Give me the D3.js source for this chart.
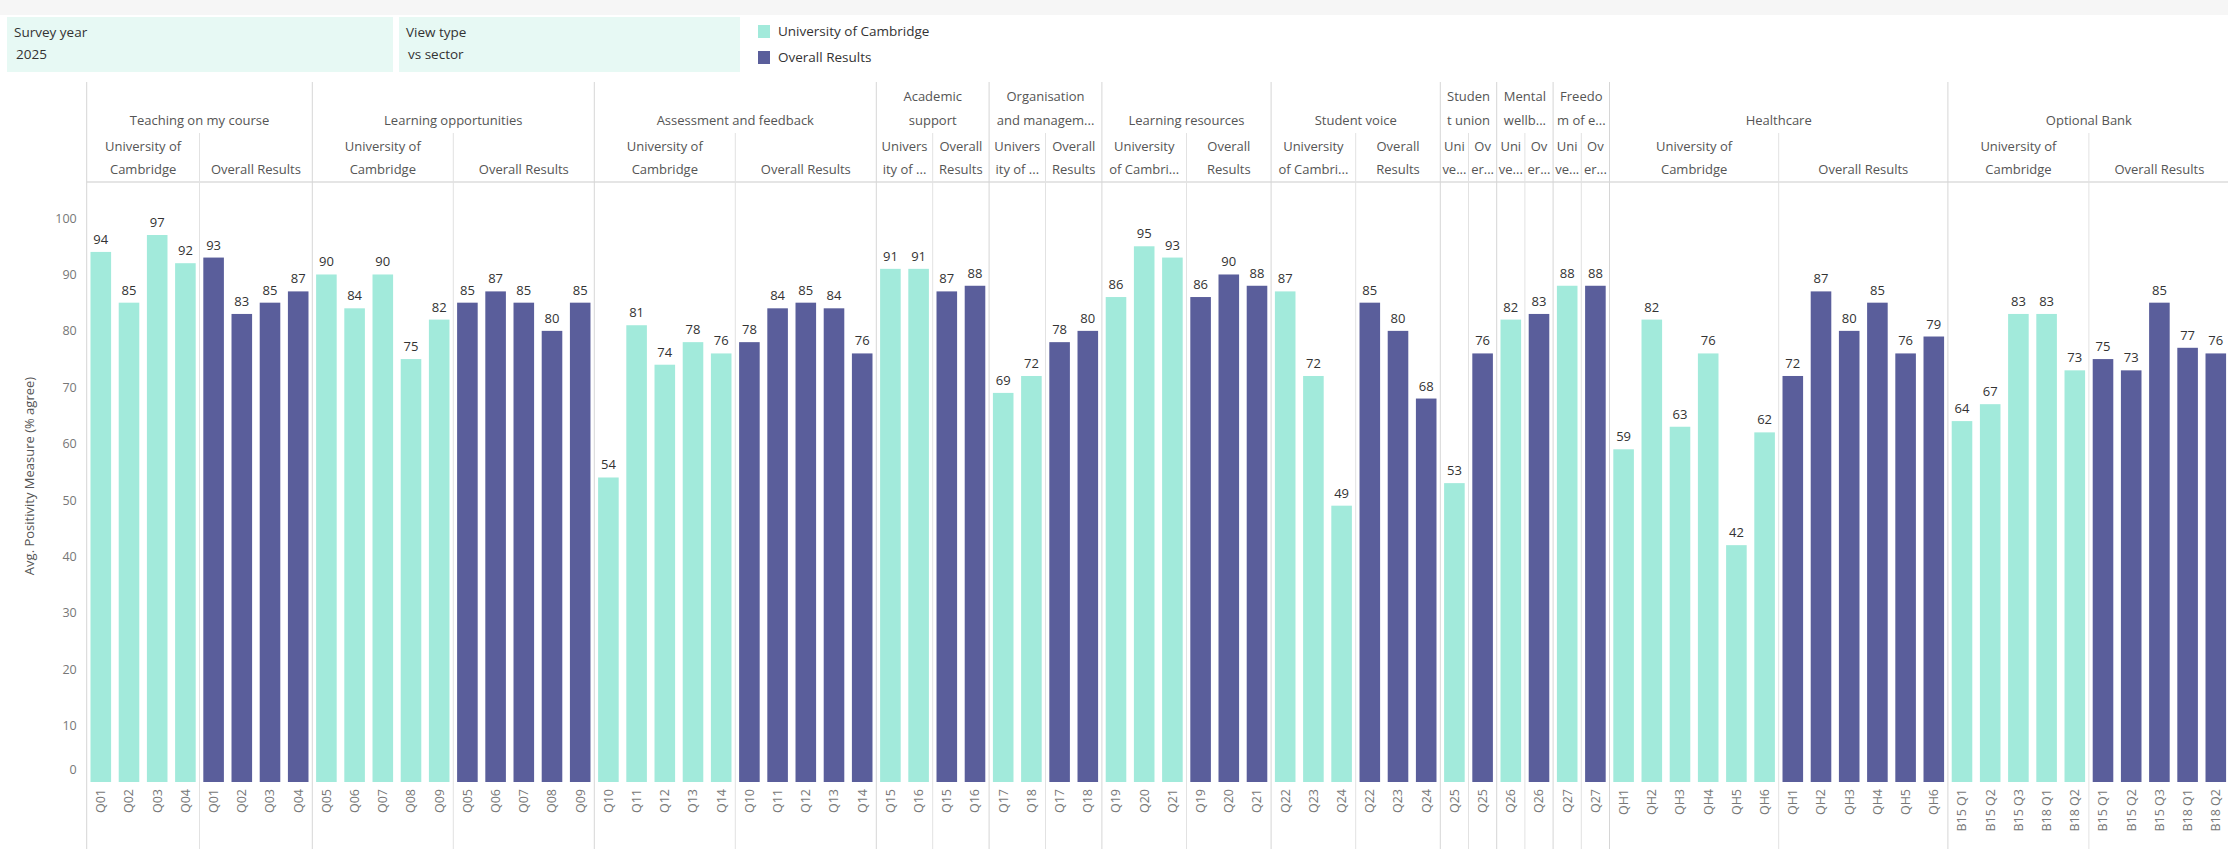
<!DOCTYPE html>
<html>
<head>
<meta charset="utf-8">
<script src="https://cdn.jsdelivr.net/npm/d3@7"></script>
<style>
  html, body { margin: 0; padding: 0; background: #ffffff; }
  svg { display: block; font-family: "Open Sans", "Noto Sans", sans-serif; }
</style>
</head>
<body>
<svg id="chart" width="2228" height="849"></svg>
<script>
// ---------------- DATA ----------------
const groups = [
  "Teaching on my course", "Learning opportunities", "Assessment and feedback",
  "Academic support", "Organisation and management", "Learning resources",
  "Student voice", "Student union", "Mental wellbeing", "Freedom of expression",
  "Healthcare", "Optional Bank"
];
// header text as displayed (wrapped / truncated like the reference)
const groupHeaderLines = [
  ["Teaching on my course"], ["Learning opportunities"], ["Assessment and feedback"],
  ["Academic", "support"], ["Organisation", "and managem..."], ["Learning resources"],
  ["Student voice"], ["Studen", "t union"], ["Mental", "wellb..."], ["Freedo", "m of e..."],
  ["Healthcare"], ["Optional Bank"]
];
const ucHeaderLines = [
  ["University of", "Cambridge"], ["University of", "Cambridge"], ["University of", "Cambridge"],
  ["Univers", "ity of ..."], ["Univers", "ity of ..."], ["University", "of Cambri..."],
  ["University", "of Cambri..."], ["Uni", "ve..."], ["Uni", "ve..."], ["Uni", "ve..."],
  ["University of", "Cambridge"], ["University of", "Cambridge"]
];
const orHeaderLines = [
  ["Overall Results"], ["Overall Results"], ["Overall Results"],
  ["Overall", "Results"], ["Overall", "Results"], ["Overall", "Results"],
  ["Overall", "Results"], ["Ov", "er..."], ["Ov", "er..."], ["Ov", "er..."],
  ["Overall Results"], ["Overall Results"]
];
const groupQuestions = [
  ["Q01", "Q02", "Q03", "Q04"],
  ["Q05", "Q06", "Q07", "Q08", "Q09"],
  ["Q10", "Q11", "Q12", "Q13", "Q14"],
  ["Q15", "Q16"],
  ["Q17", "Q18"],
  ["Q19", "Q20", "Q21"],
  ["Q22", "Q23", "Q24"],
  ["Q25"],
  ["Q26"],
  ["Q27"],
  ["QH1", "QH2", "QH3", "QH4", "QH5", "QH6"],
  ["B15 Q1", "B15 Q2", "B15 Q3", "B18 Q1", "B18 Q2"]
];
const ucValues = [
  [94, 85, 97, 92],
  [90, 84, 90, 75, 82],
  [54, 81, 74, 78, 76],
  [91, 91],
  [69, 72],
  [86, 95, 93],
  [87, 72, 49],
  [53],
  [82],
  [88],
  [59, 82, 63, 76, 42, 62],
  [64, 67, 83, 83, 73]
];
const orValues = [
  [93, 83, 85, 87],
  [85, 87, 85, 80, 85],
  [78, 84, 85, 84, 76],
  [87, 88],
  [78, 80],
  [86, 90, 88],
  [85, 80, 68],
  [76],
  [83],
  [88],
  [72, 87, 80, 85, 76, 79],
  [75, 73, 85, 77, 76]
];
const seriesNames = ["University of Cambridge", "Overall Results"];
const yTicks = [0, 10, 20, 30, 40, 50, 60, 70, 80, 90, 100];
const filterLabels = [["Survey year", "2025"], ["View type", "vs sector"]];
const yTitle = "Avg. Positivity Measure (% agree)";

// ---------------- BUILD ROWS ----------------
const rows = [];
groups.forEach((g, gi) => {
  [ucValues, orValues].forEach((vals, si) => {
    groupQuestions[gi].forEach((q, qi) => {
      rows.push({ key: gi + "|" + si + "|" + q, group: gi, series: si, q: q, value: vals[gi][qi] });
    });
  });
});

// ---------------- LAYOUT ----------------
const colors = ["#a2eadb", "#5a5e9b"];
const svg = d3.select("#chart");
const plotLeft = 86.7, step = 28.2;
const plotTop = 182, plotBottom = 782;
const headerTop = 82, subHeaderTop = 133;
const H = 849;

const x = d3.scaleBand()
  .domain(rows.map(d => d.key))
  .range([plotLeft, plotLeft + step * rows.length])
  .paddingInner(0.27)
  .paddingOuter(0.135);

const y = d3.scaleLinear().domain([0, 106.4]).range([plotBottom, plotTop]);

// top strip
svg.append("rect").attr("x", 0).attr("y", 0).attr("width", 2228).attr("height", 15).attr("fill", "#f6f6f6");

// filter boxes
const boxes = [[7, 386], [399, 341]];
filterLabels.forEach((f, i) => {
  svg.append("rect").attr("x", boxes[i][0]).attr("y", 17).attr("width", boxes[i][1]).attr("height", 55)
    .attr("fill", "#e7f9f4");
  svg.append("text").attr("x", boxes[i][0] + 7).attr("y", 37).attr("font-size", 13.5).attr("fill", "#333").text(f[0]);
  svg.append("text").attr("x", boxes[i][0] + 9).attr("y", 59).attr("font-size", 13.5).attr("fill", "#333").text(f[1]);
});

// legend
seriesNames.forEach((s, i) => {
  const ly = 25 + i * 26;
  svg.append("rect").attr("x", 758).attr("y", ly).attr("width", 12).attr("height", 13).attr("fill", colors[i]);
  svg.append("text").attr("x", 778).attr("y", ly + 11).attr("font-size", 13.5).attr("fill", "#333").text(s);
});

// pane boundaries
const groupStart = [], groupMid = [], groupEnd = [];
let idx = 0;
groups.forEach((g, gi) => {
  const n = groupQuestions[gi].length;
  groupStart.push(plotLeft + idx * step);
  groupMid.push(plotLeft + (idx + n) * step);
  groupEnd.push(plotLeft + (idx + 2 * n) * step);
  idx += 2 * n;
});

const lines = svg.append("g");
// header bottom line
lines.append("line").attr("x1", plotLeft).attr("x2", 2228).attr("y1", plotTop).attr("y2", plotTop)
  .attr("stroke", "#dcdcdc").attr("stroke-width", 1.5);
// left border
lines.append("line").attr("x1", plotLeft).attr("x2", plotLeft).attr("y1", headerTop).attr("y2", H)
  .attr("stroke", "#d6d6d6");
groups.forEach((g, gi) => {
  lines.append("line").attr("x1", groupEnd[gi]).attr("x2", groupEnd[gi]).attr("y1", headerTop).attr("y2", H)
    .attr("stroke", "#d6d6d6");
  lines.append("line").attr("x1", groupMid[gi]).attr("x2", groupMid[gi]).attr("y1", subHeaderTop).attr("y2", H)
    .attr("stroke", "#e2e2e2");
});

// header texts
const hdr = svg.append("g").attr("font-size", 13).attr("fill", "#555").attr("text-anchor", "middle");
function multiLine(cx, bottomY, lh, linesArr) {
  const n = linesArr.length;
  linesArr.forEach((t, i) => {
    hdr.append("text").attr("x", cx).attr("y", bottomY - (n - 1 - i) * lh).text(t);
  });
}
groups.forEach((g, gi) => {
  multiLine((groupStart[gi] + groupEnd[gi]) / 2, 125, 24, groupHeaderLines[gi]);
  multiLine((groupStart[gi] + groupMid[gi]) / 2, 174, 23, ucHeaderLines[gi]);
  multiLine((groupMid[gi] + groupEnd[gi]) / 2, 174, 23, orHeaderLines[gi]);
});

// bars
svg.append("g").selectAll("rect").data(rows).join("rect")
  .attr("x", d => x(d.key))
  .attr("y", d => y(d.value))
  .attr("width", x.bandwidth())
  .attr("height", d => y(0) - y(d.value))
  .attr("fill", d => colors[d.series]);

// value labels
svg.append("g").selectAll("text").data(rows).join("text")
  .attr("x", d => x(d.key) + x.bandwidth() / 2)
  .attr("y", d => y(d.value) - 8)
  .attr("text-anchor", "middle")
  .attr("font-size", 13)
  .attr("fill", "#333")
  .text(d => d.value);

// y axis
const yAxis = svg.append("g").attr("transform", `translate(${plotLeft},0)`)
  .call(d3.axisLeft(y).tickValues(yTicks).tickSize(0).tickPadding(10));
yAxis.select(".domain").remove();
yAxis.selectAll("text").attr("font-size", 12.5).attr("fill", "#777").attr("font-family", "Open Sans, sans-serif");
yAxis.selectAll(".tick").filter(d => d === 0).select("text").attr("dy", "-0.7em");

svg.append("text")
  .attr("transform", `translate(34,${(plotTop + plotBottom) / 2 - 6}) rotate(-90)`)
  .attr("text-anchor", "middle").attr("font-size", 13).attr("fill", "#555")
  .text(yTitle);

// x axis
const xAxis = svg.append("g").attr("transform", `translate(0,${plotBottom})`)
  .call(d3.axisBottom(x).tickSize(0).tickFormat(k => rows.find(r => r.key === k).q));
xAxis.select(".domain").remove();
xAxis.selectAll("text")
  .attr("transform", "rotate(-90)")
  .attr("text-anchor", "end")
  .attr("x", -7).attr("y", 0).attr("dy", "0.35em")
  .attr("font-size", 12.5).attr("fill", "#777").attr("font-family", "Open Sans, sans-serif");
</script>
</body>
</html>
